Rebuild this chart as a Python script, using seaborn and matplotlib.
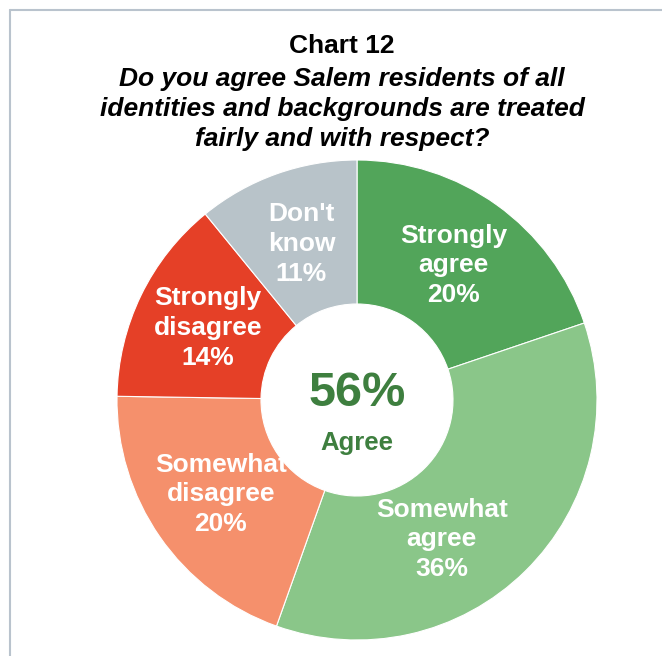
import matplotlib
matplotlib.use("Agg")
import matplotlib.pyplot as plt
import seaborn as sns
from matplotlib.lines import Line2D
import numpy as np

sns.set_theme(style="white")
plt.rcParams['font.family'] = ['Liberation Sans', 'DejaVu Sans']

categories = ["Strongly\nagree", "Somewhat\nagree", "Somewhat\ndisagree", "Strongly\ndisagree", "Don't\nknow"]
values = [20, 36, 20, 14, 11]
colors = ["#52A55A", "#8AC689", "#F5906C", "#E54027", "#B8C3C9"]
agree_total = "56%"
title_line1 = "Chart 12"
title_line2 = "Do you agree Salem residents of all\nidentities and backgrounds are treated\nfairly and with respect?"

W, H = 662, 656
fig = plt.figure(figsize=(W / 100, H / 100), dpi=100)
fig.patch.set_facecolor("white")

# frame lines (top and left)
fig.add_artist(Line2D([10 / W, 1], [1 - 10 / H, 1 - 10 / H], transform=fig.transFigure,
                      color="#B9C3CD", lw=1.5))
fig.add_artist(Line2D([10 / W, 10 / W], [0, 1 - 10 / H], transform=fig.transFigure,
                      color="#B9C3CD", lw=1.5))

cx, cy, R = 357, 400, 240
ax = fig.add_axes([(cx - R) / W, (H - cy - R) / H, 2 * R / W, 2 * R / H])
wedges, texts = ax.pie(values, colors=colors, startangle=90, counterclock=False,
                       labels=[f"{c}\n{v}%" for c, v in zip(categories, values)],
                       labeldistance=0.69,
                       wedgeprops=dict(width=0.6, edgecolor="white", linewidth=0.8),
                       textprops=dict(color="white", fontsize=19, fontweight="bold",
                                      ha="center", va="center", linespacing=1.3))
for t in texts:
    t.set_horizontalalignment("center")
    t.set_verticalalignment("center")
# Somewhat agree label sits a bit lower-left than the wedge midpoint
ang = np.deg2rad(90 - 148.7)
texts[1].set_position((0.68 * np.cos(ang), 0.68 * np.sin(ang)))
ax.set_xlim(-1, 1)
ax.set_ylim(-1, 1)

ax.text(0, 0.025, agree_total, ha="center", va="center", fontsize=35, fontweight="bold",
        color="#3E7F3F")
ax.text(0, -0.18, "Agree", ha="center", va="center", fontsize=18.5, fontweight="bold",
        color="#3E7F3F")

fig.text(342 / W, 1 - 46 / H, title_line1, ha="center", va="center", fontsize=19,
         fontweight="bold", color="black")
fig.text(342 / W, 1 - 109 / H, title_line2, ha="center", va="center", fontsize=19,
         fontweight="bold", fontstyle="italic", color="black", linespacing=1.34)

fig.savefig("out.png", dpi=100)
